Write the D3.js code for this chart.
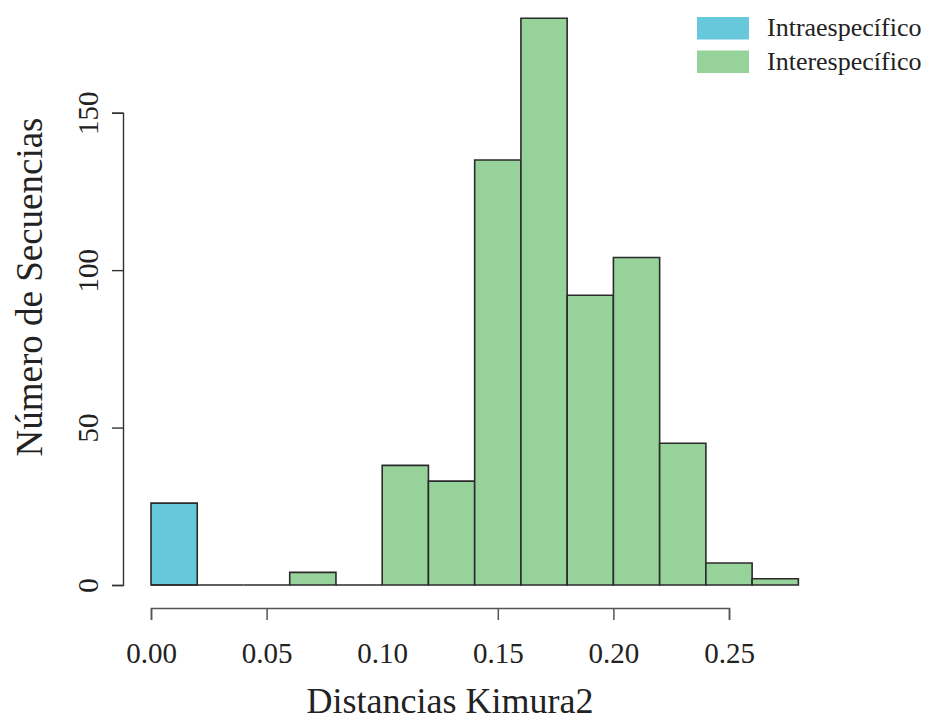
<!DOCTYPE html>
<html>
<head>
<meta charset="utf-8">
<script src="https://cdn.jsdelivr.net/npm/d3@7"></script>
<style>
  body { margin: 0; background: #fff; }
  svg { font-family: "Liberation Serif", "Times New Roman", serif; }
</style>
</head>
<body>
<div class="chart"></div>
<script>
// histogram bins (width 0.02)
var binStarts = [0, 0.02, 0.04, 0.06, 0.08, 0.10, 0.12, 0.14, 0.16, 0.18, 0.20, 0.22, 0.24, 0.26]
var intraCounts = [26]
var interCounts = [0, 0, 0, 4, 0, 38, 33, 135, 180, 92, 104, 45, 7, 2]
var xTicks = [0, 0.05, 0.10, 0.15, 0.20, 0.25]
var yTicks = [0, 50, 100, 150]
var seriesNames = ["Intraespecífico", "Interespecífico"]
var seriesColors = ["#67c8db", "#98d29b"]
var binWidth = 0.02

var svg = d3.select('.chart')
    .append('svg')
    .attr('width', 928)
    .attr('height', 724)

var x = d3.scaleLinear().domain([0, 0.25]).range([151, 729])
var y = d3.scaleLinear().domain([0, 150]).range([585, 112.7])

// bars as closed paths so empty bins still show their bottom edge
function barPath(d, i) {
    var x0 = x(binStarts[i]), x1 = x(binStarts[i] + binWidth)
    return 'M' + x0 + ',' + y(0) + 'V' + y(d) + 'H' + x1 + 'V' + y(0) + 'Z'
}

function drawBars(counts, color) {
    svg.append('g')
        .selectAll('path')
        .data(counts)
        .enter()
        .append('path')
        .attr('d', barPath)
        .attr('fill', color)
        .attr('stroke', '#2b2b2b')
        .attr('stroke-width', 1.6)
}

drawBars(intraCounts, seriesColors[0])
drawBars(interCounts, seriesColors[1])

// x axis (R style, detached below the bars)
var xAxis = svg.append('g')
    .attr('transform', 'translate(0,608)')
    .call(d3.axisBottom(x).tickValues(xTicks).tickSize(12).tickPadding(22).tickFormat(d3.format('.2f')))
xAxis.select('.domain').attr('stroke', '#555').attr('stroke-width', 1.5)
xAxis.selectAll('.tick line').attr('stroke', '#555').attr('stroke-width', 1.5)
    .filter(d => Math.abs(d - 0.10) < 1e-9).remove()
xAxis.selectAll('.tick text')
    .attr('font-family', '"Liberation Serif", serif')
    .attr('font-size', 29)
    .attr('fill', '#222')

// y axis
var yAxis = svg.append('g')
    .attr('transform', 'translate(123,0)')
    .call(d3.axisLeft(y).tickValues(yTicks).tickSize(11).tickFormat(d3.format('d')))
yAxis.select('.domain').attr('stroke', '#333').attr('stroke-width', 1.4)
yAxis.selectAll('.tick line').attr('stroke', '#333').attr('stroke-width', 1.4)
yAxis.selectAll('.tick text')
    .attr('font-family', '"Liberation Serif", serif')
    .attr('font-size', 29)
    .attr('fill', '#222')
    .attr('text-anchor', 'middle')
    .attr('x', 0)
    .attr('dy', 0)
    .attr('transform', 'translate(-25,0) rotate(-90)')

// axis titles
svg.append('text')
    .attr('x', 450)
    .attr('y', 713)
    .attr('text-anchor', 'middle')
    .attr('font-size', 36)
    .attr('fill', '#222')
    .text('Distancias Kimura2')

svg.append('text')
    .attr('transform', 'translate(42,287) rotate(-90)')
    .attr('text-anchor', 'middle')
    .attr('font-size', 37)
    .attr('fill', '#222')
    .text('Número de Secuencias')

// legend
var legend = svg.append('g')
    .selectAll('g')
    .data(seriesNames)
    .enter()
    .append('g')
    .attr('transform', (d, i) => 'translate(697,' + (17 + i * 33.5) + ')')

legend.append('rect')
    .attr('width', 52)
    .attr('height', 22.5)
    .attr('fill', (d, i) => seriesColors[i])

legend.append('text')
    .attr('x', 70)
    .attr('y', 19)
    .attr('font-size', 26)
    .attr('fill', '#222')
    .text(d => d)
</script>
</body>
</html>
